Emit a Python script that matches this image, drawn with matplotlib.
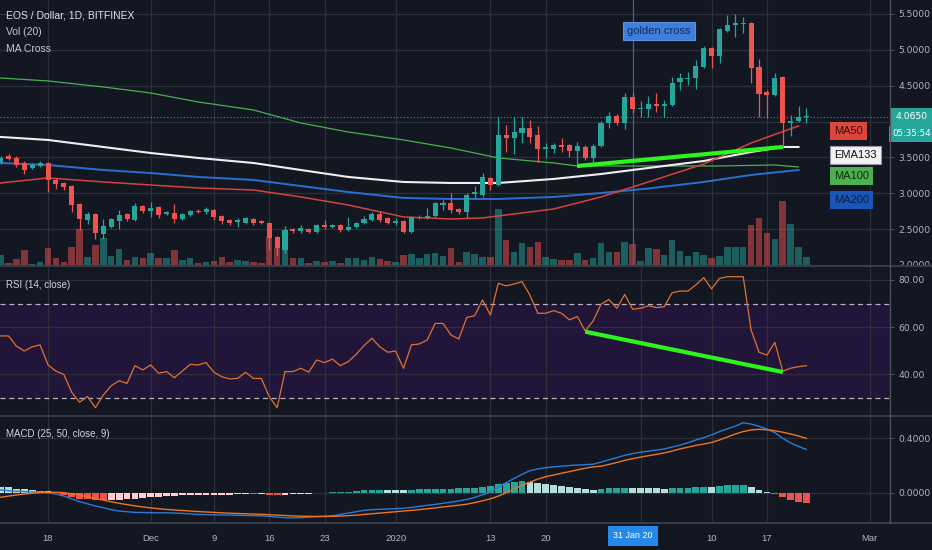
import matplotlib.pyplot as plt
import matplotlib.ticker as mticker
from matplotlib.lines import Line2D
from matplotlib.patches import Rectangle
import numpy as np

# daily candles, index 0 = 12 Nov 2019 ... index 102 = 22 Feb 2020
opens = [3.436, 3.520, 3.492, 3.422, 3.352, 3.380, 3.422, 3.185, 3.143, 3.101,
         2.850, 2.627, 2.711, 2.432, 2.529, 2.613, 2.711, 2.627, 2.822, 2.752,
         2.808, 2.711, 2.725, 2.641, 2.697, 2.752, 2.738, 2.766, 2.683, 2.627,
         2.599, 2.585, 2.641, 2.613, 2.585, 2.390, 2.209, 2.501, 2.473, 2.501,
         2.460, 2.557, 2.529, 2.557, 2.487, 2.529, 2.585, 2.627, 2.711, 2.655,
         2.585, 2.613, 2.460, 2.655, 2.655, 2.683, 2.836, 2.864, 2.780, 2.738,
         2.990, 2.976, 3.213, 3.115, 3.812, 3.771, 3.840, 3.910, 3.812, 3.617,
         3.617, 3.673, 3.673, 3.589, 3.645, 3.492, 3.659, 3.980, 4.077, 3.980,
         4.342, 4.175, 4.175, 4.245, 4.217, 4.231, 4.552, 4.593, 4.607, 4.761,
         5.026, 4.914, 5.263, 5.347, 5.360, 5.374, 4.761, 4.412, 4.370, 4.621,
         3.980, 4.008, 4.063]
highs = [3.520, 3.547, 3.520, 3.450, 3.422, 3.450, 3.436, 3.213, 3.157, 3.115,
         2.864, 2.738, 2.725, 2.641, 2.655, 2.766, 2.725, 2.864, 2.836, 2.878,
         2.822, 2.752, 2.850, 2.725, 2.766, 2.780, 2.808, 2.780, 2.697, 2.641,
         2.655, 2.669, 2.655, 2.627, 2.599, 2.404, 2.543, 2.515, 2.557, 2.515,
         2.571, 2.627, 2.571, 2.571, 2.669, 2.599, 2.683, 2.738, 2.752, 2.669,
         2.655, 2.627, 2.683, 2.697, 2.794, 2.878, 2.906, 3.003, 2.794, 3.003,
         3.101, 3.282, 3.227, 4.063, 3.952, 4.063, 4.063, 4.022, 3.938, 3.701,
         3.701, 3.771, 3.687, 3.715, 3.673, 3.687, 4.008, 4.133, 4.105, 4.398,
         4.398, 4.287, 4.356, 4.398, 4.301, 4.621, 4.677, 4.691, 4.858, 5.054,
         5.040, 5.305, 5.486, 5.500, 5.458, 5.388, 4.872, 4.440, 4.677, 4.635,
         4.091, 4.217, 4.189]
lows = [3.408, 3.464, 3.366, 3.268, 3.338, 3.366, 3.017, 3.059, 3.045, 2.738,
        2.487, 2.571, 2.362, 2.362, 2.515, 2.501, 2.613, 2.613, 2.725, 2.669,
        2.655, 2.697, 2.585, 2.627, 2.683, 2.725, 2.711, 2.627, 2.571, 2.557,
        2.529, 2.571, 2.557, 2.571, 2.209, 2.139, 2.167, 2.446, 2.446, 2.446,
        2.446, 2.501, 2.515, 2.460, 2.473, 2.515, 2.571, 2.613, 2.599, 2.571,
        2.557, 2.446, 2.446, 2.641, 2.641, 2.669, 2.766, 2.725, 2.711, 2.655,
        2.934, 2.948, 3.045, 3.101, 3.575, 3.547, 3.701, 3.701, 3.436, 3.492,
        3.561, 3.575, 3.506, 3.366, 3.464, 3.436, 3.645, 3.910, 3.952, 3.896,
        4.119, 4.063, 4.063, 4.133, 4.063, 4.217, 4.440, 4.510, 4.454, 4.747,
        4.747, 4.817, 5.249, 5.179, 5.235, 4.538, 4.063, 4.050, 4.350, 3.645,
        3.798, 3.994, 3.980]
closes = [3.492, 3.478, 3.394, 3.324, 3.394, 3.422, 3.185, 3.129, 3.087, 2.836,
          2.641, 2.711, 2.446, 2.543, 2.641, 2.697, 2.641, 2.822, 2.752, 2.794,
          2.697, 2.738, 2.641, 2.711, 2.752, 2.738, 2.780, 2.669, 2.613, 2.585,
          2.627, 2.655, 2.585, 2.585, 2.376, 2.236, 2.487, 2.473, 2.515, 2.460,
          2.557, 2.529, 2.557, 2.487, 2.529, 2.585, 2.641, 2.711, 2.627, 2.585,
          2.613, 2.460, 2.669, 2.669, 2.683, 2.864, 2.864, 2.766, 2.738, 2.976,
          3.017, 3.227, 3.115, 3.812, 3.771, 3.854, 3.910, 3.785, 3.617, 3.645,
          3.673, 3.645, 3.589, 3.659, 3.492, 3.659, 3.980, 4.077, 3.980, 4.342,
          4.175, 4.189, 4.245, 4.217, 4.245, 4.538, 4.607, 4.607, 4.775, 5.026,
          4.914, 5.291, 5.347, 5.374, 5.374, 4.747, 4.384, 4.370, 4.607, 3.980,
          4.008, 4.063, 4.065]
volumes = [10, 2, 6, 15, 1, 3, 17, 7, 3, 18,
           36, 8, 20, 27, 9, 16, 5, 8, 7, 12,
           7, 7, 15, 5, 7, 2, 3, 4, 8, 3,
           5, 4, 3, 2, 28, 17, 35, 7, 7, 2,
           4, 3, 4, 2, 7, 7, 5, 8, 6, 4,
           3, 10, 11, 7, 11, 12, 9, 17, 3, 13,
           11, 8, 8, 56, 25, 13, 22, 18, 23, 8,
           6, 5, 5, 12, 5, 7, 22, 13, 13, 23,
           21, 4, 17, 16, 10, 25, 14, 9, 13, 10,
           7, 9, 18, 18, 18, 40, 47, 32, 26, 64,
           41, 18, 8]

rsi = [56.3, 56.3, 52.0, 49.9, 51.7, 52.5, 44.0, 41.4, 40.0, 32.4,
       28.2, 30.6, 25.9, 31.3, 35.2, 37.3, 36.2, 43.7, 41.9, 44.0,
       40.5, 41.2, 38.6, 41.4, 44.3, 44.0, 45.0, 40.9, 39.0, 38.1,
       38.3, 40.9, 38.3, 38.3, 30.6, 25.9, 41.2, 41.2, 42.6, 40.9,
       46.1, 45.0, 46.5, 43.7, 45.4, 48.5, 52.2, 55.3, 51.7, 49.4,
       49.9, 42.6, 52.5, 52.9, 54.6, 61.6, 61.6, 56.7, 55.0, 64.1,
       64.9, 71.5, 65.2, 78.6, 77.5, 78.3, 79.3, 73.6, 65.9, 65.9,
       67.0, 65.9, 63.1, 64.5, 58.4, 62.6, 69.7, 71.8, 68.0, 73.9,
       67.6, 68.0, 69.1, 68.3, 68.7, 74.6, 75.3, 75.3, 77.9, 81.0,
       76.2, 80.7, 81.4, 81.4, 81.4, 58.8, 49.4, 48.2, 53.6, 41.4,
       42.6, 43.3, 43.7]

macd = [0.020, 0.015, 0.010, 0.008, 0.005, 0.004, 0.000, -0.010, -0.025, -0.045,
        -0.066, -0.082, -0.098, -0.110, -0.125, -0.135, -0.140, -0.145, -0.146, -0.147,
        -0.148, -0.148, -0.150, -0.152, -0.156, -0.160, -0.161, -0.163, -0.164, -0.165,
        -0.166, -0.168, -0.169, -0.170, -0.174, -0.180, -0.184, -0.185, -0.184, -0.180,
        -0.176, -0.173, -0.170, -0.160, -0.150, -0.140, -0.130, -0.125, -0.122, -0.120,
        -0.117, -0.115, -0.108, -0.100, -0.093, -0.086, -0.078, -0.070, -0.060, -0.050,
        -0.035, -0.015, 0.005, 0.040, 0.074, 0.105, 0.135, 0.162, 0.175, 0.184,
        0.190, 0.195, 0.200, 0.203, 0.206, 0.210, 0.225, 0.242, 0.258, 0.275,
        0.288, 0.298, 0.306, 0.313, 0.322, 0.336, 0.350, 0.368, 0.388, 0.405,
        0.425, 0.450, 0.470, 0.490, 0.515, 0.505, 0.488, 0.468, 0.442, 0.400,
        0.366, 0.340, 0.318]
signal = [-0.034, -0.025, -0.017, -0.010, -0.004, 0.000, 0.002, 0.003, 0.000, -0.008,
          -0.018, -0.030, -0.043, -0.055, -0.067, -0.078, -0.088, -0.097, -0.105, -0.112,
          -0.118, -0.123, -0.127, -0.131, -0.135, -0.139, -0.142, -0.145, -0.148, -0.151,
          -0.153, -0.155, -0.157, -0.159, -0.162, -0.165, -0.168, -0.171, -0.173, -0.174,
          -0.175, -0.175, -0.174, -0.172, -0.169, -0.165, -0.160, -0.155, -0.150, -0.145,
          -0.140, -0.135, -0.130, -0.125, -0.118, -0.112, -0.105, -0.098, -0.092, -0.085,
          -0.073, -0.060, -0.045, -0.025, 0.000, 0.028, 0.055, 0.078, 0.100, 0.118,
          0.130, 0.143, 0.155, 0.168, 0.180, 0.190, 0.195, 0.208, 0.222, 0.238,
          0.250, 0.262, 0.272, 0.282, 0.293, 0.306, 0.322, 0.335, 0.348, 0.358,
          0.370, 0.388, 0.410, 0.432, 0.450, 0.462, 0.466, 0.463, 0.456, 0.445,
          0.432, 0.417, 0.400]
hist = [0.045, 0.040, 0.030, 0.025, 0.020, 0.015, 0.010, -0.005, -0.020, -0.035,
        -0.045, -0.050, -0.055, -0.057, -0.055, -0.053, -0.050, -0.045, -0.040, -0.035,
        -0.030, -0.025, -0.022, -0.020, -0.019, -0.018, -0.017, -0.016, -0.015, -0.014,
        -0.013, -0.012, -0.012, -0.011, -0.017, -0.020, -0.015, -0.012, -0.010, -0.006,
        -0.002, 0.000, 0.002, 0.005, 0.008, 0.012, 0.018, 0.020, 0.022, 0.021,
        0.020, 0.019, 0.022, 0.025, 0.026, 0.027, 0.028, 0.030, 0.032, 0.035,
        0.038, 0.045, 0.050, 0.065, 0.075, 0.082, 0.085, 0.082, 0.075, 0.066,
        0.060, 0.052, 0.045, 0.035, 0.026, 0.022, 0.030, 0.034, 0.036, 0.038,
        0.036, 0.035, 0.034, 0.032, 0.030, 0.034, 0.036, 0.038, 0.040, 0.044,
        0.043, 0.050, 0.055, 0.057, 0.058, 0.045, 0.022, 0.006, -0.012, -0.035,
        -0.052, -0.066, -0.077]

# moving averages at a few candles
ma50_idx = [0, 6, 13, 19, 25, 32, 38, 44, 51, 57, 61, 63, 70, 76, 82, 89, 95, 101]
ma50 = [3.143, 3.213, 3.157, 3.115, 3.073, 3.045, 2.948, 2.836, 2.669, 2.641,
        2.655, 2.683, 2.780, 2.948, 3.157, 3.408, 3.701, 3.938]
ema133_idx = [0, 6, 13, 19, 25, 32, 38, 44, 51, 57, 63, 70, 76, 82, 89, 95, 99, 101]
ema133 = [3.785, 3.743, 3.645, 3.561, 3.492, 3.422, 3.324, 3.227, 3.157, 3.143,
          3.143, 3.199, 3.268, 3.352, 3.450, 3.575, 3.645, 3.645]
ma100_idx = [0, 6, 13, 19, 25, 32, 38, 44, 51, 57, 63, 70, 73, 82, 91, 98, 101]
ma100 = [4.607, 4.566, 4.482, 4.398, 4.273, 4.161, 3.980, 3.854, 3.743, 3.631,
         3.492, 3.422, 3.380, 3.380, 3.380, 3.394, 3.366]
ma200_idx = [0, 6, 13, 19, 25, 32, 38, 44, 51, 57, 63, 70, 76, 82, 89, 95, 101]
ma200 = [3.422, 3.394, 3.324, 3.282, 3.227, 3.185, 3.101, 3.017, 2.934, 2.920,
         2.920, 2.948, 3.003, 3.066, 3.157, 3.255, 3.324]

# drawn trend lines (candle index, value)
price_trend = ([73, 99], [3.38, 3.645])
rsi_trend = ([74, 99], [58.1, 41.0])

tick_idx = [6, 19, 27, 34, 41, 50, 62, 69, 81, 90, 97, 110]
tick_lbl = ['18', 'Dec', '9', '16', '23', '2020', '13', '20', '', '10', '17', 'Mar']
cross_idx = 80  # 31 Jan 2020

BG = '#131722'
GRID = '#2c303b'
TXT = '#b2b5be'
UP = '#26a69a'
DOWN = '#ef5350'
SANS = ['Liberation Sans', 'DejaVu Sans']

W, H = 932, 550
fig = plt.figure(figsize=(W / 100, H / 100), dpi=100, facecolor=BG)


def pane(top, bottom):
    a = fig.add_axes([0, 1 - bottom / H, 890 / W, (bottom - top) / H])
    a.set_facecolor(BG)
    for s in a.spines.values():
        s.set_visible(False)
    a.set_xlim(-0.08, 112.58)
    a.yaxis.tick_right()
    a.tick_params(axis='y', colors=TXT, labelsize=6.6, length=3, pad=3)
    a.tick_params(axis='y', color='#50535e')
    a.tick_params(axis='x', length=0)
    return a


ax = pane(0, 265)
ax_rsi = pane(267, 415)
ax_macd = pane(417, 523)

x = np.arange(len(closes))
o = np.array(opens)
c = np.array(closes)
up = c >= o

# ---- price pane ----
ax.set_ylim(1.999, 5.695)
for g in [2.0, 2.5, 3.0, 3.5, 4.0, 4.5, 5.0, 5.5]:
    ax.axhline(g, color=GRID, lw=0.9, zorder=0)
for t in tick_idx:
    if t != 81:
        ax.axvline(t, color=GRID, lw=0.9, zorder=0)
ax.set_yticks([2.0, 2.5, 3.0, 3.5, 4.5, 5.0, 5.5])
ax.yaxis.set_major_formatter(mticker.FormatStrFormatter('%.4f'))
ax.set_xticks([])

vol = np.array(volumes, dtype=float)
vol_h = vol / vol.max() * 0.24
ax.bar(x, vol_h, width=0.82, color=np.where(up, UP, DOWN), alpha=0.5,
       transform=ax.get_xaxis_transform(), zorder=1)

ax.axvline(cross_idx, color='#3566a8', lw=0.9, zorder=1)

ax.plot(ma100_idx, ma100, color='#4caf50', lw=0.9, zorder=2)
ax.plot(ma200_idx, ma200, color='#2a6fd0', lw=1.4, zorder=2)
ax.plot(ema133_idx, ema133, color='#eeeeee', lw=1.5, zorder=2)
ax.plot(ma50_idx, ma50, color='#d2443d', lw=1.1, zorder=2)

col = np.where(up, UP, DOWN)
ax.vlines(x, lows, highs, color=col, lw=0.9, zorder=3)
body = np.maximum(np.abs(c - o), 0.012)
ax.bar(x, body, bottom=np.minimum(o, c), width=0.64, color=col, zorder=4)

ax.plot(*price_trend, color='#2bf51c', lw=3, solid_capstyle='butt', zorder=5)
ax.axhline(closes[-1], color=UP, ls=(0, (1, 2)), lw=0.8, zorder=2)

ax.text(0.007, 0.943, 'EOS / Dollar, 1D, BITFINEX', transform=ax.transAxes,
        color='#dfe1e6', fontsize=7.5, family=SANS, va='center')
ax.text(0.007, 0.879, 'Vol (20)', transform=ax.transAxes,
        color='#c3c6ce', fontsize=7.5, family=SANS, va='center')
ax.text(0.007, 0.815, 'MA Cross', transform=ax.transAxes,
        color='#c3c6ce', fontsize=7.5, family=SANS, va='center')

ax.text(0.7404, 0.883, 'golden cross', transform=ax.transAxes, ha='center',
        va='center', color='#0f2d5e', fontsize=8, family=SANS, zorder=6,
        bbox=dict(boxstyle='square,pad=0.38', fc='#3f7fd9', ec='#5b93e0', lw=0.8))

ma_labels = [('MA50', 0.504, '#dc463c', '#3b0b0b', 'none'),
             ('EMA133', 0.416, '#f2f2f2', '#111111', '#9598a1'),
             ('MA100', 0.336, '#4caf50', '#0c2a0d', 'none'),
             ('MA200', 0.245, '#1a56b8', '#0b1e44', 'none')]
for name, yy, fc, tc, ec in ma_labels:
    ax.text(0.9372, yy, name, transform=ax.transAxes, ha='left', va='center',
            color=tc, fontsize=8, family=SANS, zorder=6,
            bbox=dict(boxstyle='square,pad=0.36', fc=fc, ec=ec, lw=0.8))

ax.text(1.0242, closes[-1], '%.4f' % closes[-1], transform=ax.get_yaxis_transform(),
        ha='center', va='center', color='white', fontsize=6.6, clip_on=False,
        zorder=7, bbox=dict(boxstyle='square,pad=0.5', fc=UP, ec='none'))
ax.annotate('05:35:54', xy=(1.0242, closes[-1]), xycoords=ax.get_yaxis_transform(),
            xytext=(0, -12.2), textcoords='offset points', ha='center', va='center',
            color='white', fontsize=6.2, annotation_clip=False, zorder=7,
            bbox=dict(boxstyle='square,pad=0.42', fc=UP, ec='none'))

# ---- RSI pane ----
ax_rsi.set_ylim(22.8, 85.5)
ax_rsi.axhspan(30, 70, color='#9915ff', alpha=0.11, lw=0, zorder=0)
for g in [40, 60, 80]:
    ax_rsi.axhline(g, color=GRID, lw=0.9, zorder=0)
for t in tick_idx:
    ax_rsi.axvline(t, color=GRID, lw=0.9, zorder=0)
for g in [30, 70]:
    ax_rsi.axhline(g, color='#b2b5be', lw=0.9, ls=(0, (4, 3)), zorder=1)
ax_rsi.plot(x, rsi, color='#e0722e', lw=0.9, zorder=2)
ax_rsi.plot(*rsi_trend, color='#2bf51c', lw=3, solid_capstyle='butt', zorder=3)
ax_rsi.set_yticks([40, 60, 80])
ax_rsi.yaxis.set_major_formatter(mticker.FormatStrFormatter('%.2f'))
ax_rsi.set_xticks([])
ax_rsi.text(0.007, 0.878, 'RSI (14, close)', transform=ax_rsi.transAxes,
            color='#d1d4dc', fontsize=7, family=SANS, va='center')

# ---- MACD pane ----
ax_macd.set_ylim(-0.223, 0.557)
for g in [0.0, 0.4]:
    ax_macd.axhline(g, color=GRID, lw=0.9, zorder=0)
for t in tick_idx:
    ax_macd.axvline(t, color=GRID, lw=0.9, zorder=0)
hcol = []
for i, h in enumerate(hist):
    prev = hist[i - 1] if i > 0 else h
    if h >= 0:
        hcol.append('#26a69a' if h > prev else '#b2dfdb')
    else:
        hcol.append('#ffcdd2' if h > prev else '#ef5350')
ax_macd.bar(x, hist, width=0.86, color=hcol, zorder=1)
ax_macd.plot(x, macd, color='#2a7bd6', lw=1.0, zorder=2)
ax_macd.plot(x, signal, color='#f0731f', lw=1.0, zorder=2)
ax_macd.set_yticks([0.0, 0.4])
ax_macd.yaxis.set_major_formatter(mticker.FormatStrFormatter('%.4f'))
ax_macd.set_xticks(tick_idx)
ax_macd.set_xticklabels(tick_lbl)
ax_macd.tick_params(axis='x', colors=TXT, labelsize=6.8, pad=8, length=0)
for lab in ax_macd.get_xticklabels():
    lab.set_family(SANS)
ax_macd.text(0.007, 0.84, 'MACD (25, 50, close, 9)', transform=ax_macd.transAxes,
             color='#d1d4dc', fontsize=7, family=SANS, va='center')
ax_macd.text(cross_idx, -0.12, '31 Jan 20', transform=ax_macd.get_xaxis_transform(),
             ha='center', va='center', color='white', fontsize=6.4, family=SANS,
             clip_on=False, bbox=dict(boxstyle='square,pad=0.6', fc='#2489e8', ec='none'))

# cut the bottom price label at the pane border, then pane separators
fig.add_artist(Rectangle((890.5 / W, 1 - 272 / H), 42 / W, 6 / H,
                         transform=fig.transFigure, color=BG, zorder=5))
for yy in [266, 416, 523]:
    fig.add_artist(Line2D([0, 1], [1 - yy / H] * 2, transform=fig.transFigure,
                          color='#3a3e4a', lw=1.4, zorder=6))
fig.add_artist(Line2D([890 / W] * 2, [1 - 523 / H, 1], transform=fig.transFigure,
                      color='#50535e', lw=0.9, zorder=6))

fig.savefig('out.png', dpi=100, facecolor=BG)
